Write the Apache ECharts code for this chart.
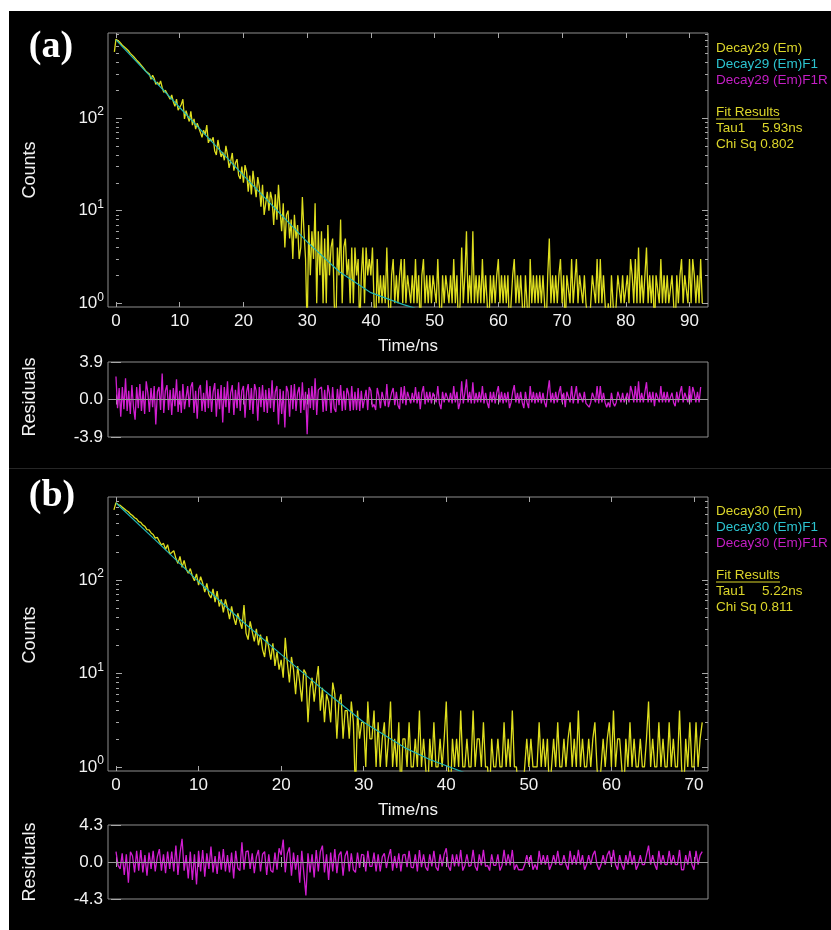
<!DOCTYPE html>
<html>
<head>
<meta charset="utf-8">
<title>Decay fits</title>
<script src="https://cdn.jsdelivr.net/npm/echarts@6/dist/echarts.min.js"></script>
<style>
  html, body { margin: 0; padding: 0; background: #fff; }
  #wrap { position: relative; width: 831px; height: 930px; overflow: hidden; }
  #bg { position: absolute; left: 9px; top: 11px; right: 0; bottom: 0; background: #000; }
  #sep { position: absolute; left: 9px; right: 0; top: 468px; height: 1px; background: #262626; }
  #chart { position: absolute; left: 0; top: 0; width: 831px; height: 930px; }
</style>
</head>
<body>
<div id="wrap">
  <div id="bg"></div>
  <div id="sep"></div>
  <div id="chart"></div>
</div>
<script>
// ---- panel (a): Decay29, channel width 0.25 ns, first channel at -0.25 ns
const startA = -0.25
const stepA = 0.25
const countsA = [
  520,
  712, 680, 672, 640, 612, 585, 572, 548, 530, 500, 488, 462, 448, 422, 414, 388,
  380, 352, 350, 318, 322, 300, 262, 290, 268, 232, 245, 226, 252, 214, 190, 200,
  198, 172, 160, 178, 150, 134, 160, 122, 128, 140, 160, 98, 120, 104, 92, 118,
  84, 98, 76, 88, 92, 70, 62, 74, 66, 84, 54, 60, 56, 62, 44, 40,
  58, 46, 38, 43, 35, 50, 40, 29, 34, 42, 27, 33, 36, 24, 22, 30,
  20, 31, 26, 16, 24, 15, 27, 19, 14, 23, 18, 11, 19, 9, 12, 16,
  10, 16, 13, 7, 15, 8, 19, 10, 6, 12, 4, 9, 10, 5, 8, 3,
  9, 5, 7, 3, 4, 14, 6, 3, 0, 7, 2, 6, 3, 12, 1, 6,
  2, 6, 1, 5, 1, 7, 2, 4, 5, 1, 0, 4, 2, 8, 1, 4,
  5, 2, 3, 1, 4, 1, 4, 2, 3, 0, 2, 4, 1, 4, 2, 3,
  2, 4, 1, 0, 3, 1, 2, 1, 2, 1, 4, 1, 0, 2, 3, 1,
  2, 1, 2, 3, 1, 3, 1, 2, 2, 1, 2, 1, 3, 1, 2, 0,
  2, 3, 1, 2, 1, 2, 1, 2, 2, 1, 3, 1, 0, 2, 1, 2,
  2, 1, 2, 1, 3, 1, 2, 0, 1, 4, 1, 2, 6, 1, 2, 1,
  6, 1, 2, 1, 2, 1, 3, 1, 2, 1, 0, 2, 1, 2, 1, 2,
  3, 1, 2, 1, 2, 1, 2, 0, 1, 2, 3, 1, 2, 1, 2, 1,
  0, 2, 1, 0, 3, 1, 2, 1, 2, 1, 2, 1, 2, 1, 0, 2,
  5, 1, 2, 1, 2, 1, 2, 3, 1, 2, 0, 2, 2, 1, 3, 1,
  1, 3, 1, 2, 2, 1, 2, 1, 1, 0, 1, 2, 2, 1, 3, 1,
  3, 1, 2, 1, 0, 1, 0, 2, 1, 0, 1, 2, 2, 1, 2, 1,
  1, 2, 1, 3, 2, 1, 3, 1, 4, 1, 2, 1, 2, 4, 1, 2,
  1, 2, 0, 2, 2, 1, 3, 1, 2, 1, 2, 1, 1, 2, 1, 0,
  2, 1, 2, 3, 1, 2, 2, 1, 3, 1, 3, 2, 1, 2, 1, 3,
  1
]
const fitTimeA = [0, 5, 10, 15, 20, 25, 30, 35, 40, 45, 47]
const fitA = [700, 302, 130, 56, 24, 10.5, 4.6, 2.2, 1.3, 0.97, 0.88]
const resStartA = 0
const residA = [
  2.4, -0.9, 1.2, -1.8, 1.3, -1.0, 2.2, -1.2, 0.9, -1.5, 1.5, -0.8, -2.1, 1.3, -0.9, 1.6,
  -1.2, 0.9, -1.5, 1.9, 0.7, -1.3, 1.2, -0.8, 1.4, -2.6, 0.8, 1.3, -1.1, 2.7, -1.4, 0.9,
  1.5, -1.1, 1.0, -1.6, 1.2, -0.7, 2.1, -1.3, 0.9, -1.4, 1.6, -1.0, -1.2, 1.4, -0.8, 1.3,
  1.8, -1.4, 0.9, -2.0, 1.1, 1.5, -1.2, 0.7, -1.3, 2.0, -0.9, 1.4, -1.3, 0.8, 1.7, -1.8,
  1.1, -1.0, 1.5, -2.4, 1.3, -0.8, 1.9, -1.4, 0.7, 1.5, -1.6, 1.0, -0.9, 1.8, -1.2, 0.9,
  1.4, -1.9, 0.8, 1.6, -1.1, 1.2, -1.5, 1.6, 0.9, -2.2, 1.3, -0.8, 1.5, -1.3, 1.0, -1.4,
  1.2, -0.9, 2.0, -1.3, 0.8, 1.4, -2.6, 1.1, -1.5, 0.9, -2.9, 1.4, 0.8, -1.8, 1.5, -1.0,
  1.6, -1.2, 0.7, 1.3, -1.4, 1.8, -1.1, 0.8, -3.6, 1.2, -0.9, 1.4, -1.1, 2.2, -1.6, 1.0,
  0.8, 1.3, -1.3, 1.0, -1.2, 1.5, 0.6, -1.4, 1.3, -0.9, -1.3, 1.1, -0.6, 1.5, -1.2, 0.9,
  -1.1, 1.2, 0.6, -1.2, 1.4, -1.1, 0.8, -1.1, 1.2, -1.2, 0.9, -0.9, -1.1, 1.0, -1.1, 1.3,
  0.9, -0.8, -0.5, -1.1, 1.2, 0.4, -0.9, 0.8, 0.6, -0.7, 1.6, -0.8, -1.0, 0.7, 1.2, -0.6,
  0.8, -0.6, -1.0, 1.3, -0.4, 1.4, -0.6, 0.8, 0.9, -0.4, 0.7, -0.3, 1.3, -0.4, 0.8, -1.0,
  0.7, 1.4, -0.5, 0.8, -0.3, 0.8, -0.4, 0.7, 0.8, -0.3, 1.4, -0.4, -1.0, 0.8, -0.3, 0.7,
  0.8, -0.3, 0.7, -0.4, 1.4, -0.3, 0.8, -1.0, -0.3, 1.9, -0.4, 0.7, 2.1, -0.3, 0.8, -0.4,
  1.8, -0.4, 0.7, -0.3, 0.8, -0.3, 1.4, -0.4, 0.7, -0.3, -0.9, 0.8, -0.3, 0.8, -0.4, 0.7,
  1.4, -0.3, 0.8, -0.4, 0.7, -0.3, 0.8, -0.9, -0.3, 0.8, 1.5, -0.3, 0.7, -0.4, 0.8, -0.3,
  -0.9, 0.8, -0.3, -0.9, 1.4, -0.3, 0.8, -0.4, 0.7, -0.3, 0.8, -0.4, 0.7, -0.3, -0.8, 0.8,
  2.0, -0.3, 0.7, -0.4, 0.8, -0.3, 0.7, 1.4, -0.3, 0.7, -0.8, 0.8, 0.7, -0.3, 1.4, -0.4,
  -0.3, 1.4, -0.4, 0.7, 0.8, -0.3, 0.8, -0.4, -0.3, -0.8, -0.3, 0.7, 0.8, -0.3, 1.4, -0.4,
  1.4, -0.3, 0.7, -0.3, -0.8, -0.3, -0.8, 0.7, -0.3, -0.7, -0.3, 0.8, 0.8, -0.3, 0.7, -0.3,
  -0.3, 0.7, -0.3, 1.4, 0.8, -0.3, 1.4, -0.3, 1.9, -0.3, 0.7, -0.3, 0.8, 1.8, -0.3, 0.8,
  -0.3, 0.8, -0.7, 0.7, 0.8, -0.3, 1.4, -0.3, 0.8, -0.3, 0.8, -0.3, -0.3, 0.7, -0.3, -0.7,
  0.8, -0.3, 0.7, 1.4, -0.3, 0.7, 0.7, -0.3, 1.4, -0.3, 1.3, 0.7, -0.3, 0.8, -0.3, 1.3
]

// ---- panel (b): Decay30
const startB = -0.25
const stepB = 0.25
const countsB = [
  560,
  670, 640, 628, 600, 578, 552, 536, 505, 488, 462, 450, 420, 412, 386, 374, 345,
  342, 318, 306, 280, 285, 258, 236, 246, 212, 238, 190, 196, 205, 170, 150, 178,
  136, 162, 130, 118, 132, 110, 98, 116, 88, 108, 92, 74, 92, 70, 64, 80,
  58, 76, 52, 62, 45, 62, 50, 38, 52, 40, 33, 44, 36, 30, 54, 27,
  23, 36, 28, 22, 30, 20, 26, 18, 15, 25, 19, 14, 21, 12, 17, 11,
  14, 9, 24, 13, 8, 15, 11, 6, 12, 8, 5, 11, 10, 3, 7, 9,
  5, 8, 12, 4, 7, 3, 6, 5, 3, 8, 6, 2, 5, 6, 2, 4,
  4, 2, 5, 3, 0, 4, 2, 3, 3, 1, 5, 2, 2, 4, 1, 3,
  1, 2, 3, 1, 2, 5, 1, 2, 1, 3, 0, 2, 2, 1, 3, 1,
  1, 2, 1, 4, 1, 2, 1, 0, 2, 1, 3, 1, 1, 2, 1, 2,
  5, 1, 0, 2, 1, 2, 1, 4, 1, 1, 2, 1, 1, 4, 1, 2,
  2, 1, 3, 1, 1, 0, 2, 1, 1, 2, 1, 1, 3, 1, 2, 1,
  4, 1, 1, 0, 0, 0, 1, 2, 1, 2, 1, 1, 1, 3, 1, 2,
  1, 2, 0, 1, 2, 1, 3, 1, 1, 2, 1, 2, 3, 1, 2, 1,
  4, 1, 2, 1, 1, 2, 1, 2, 3, 1, 0, 1, 2, 1, 2, 3,
  1, 4, 1, 2, 2, 1, 0, 2, 1, 3, 1, 2, 1, 1, 2, 1,
  1, 2, 5, 1, 2, 1, 1, 3, 1, 2, 1, 1, 3, 1, 2, 1,
  1, 4, 1, 0, 2, 1, 3, 1, 1, 3, 1, 2,
  3
]
const fitTimeB = [0, 5, 10, 15, 20, 25, 30, 35, 38, 42.5]
const fitB = [665, 255, 96, 38, 16, 6.8, 3.0, 1.6, 1.2, 0.85]
const resStartB = 0
const residB = [
  1.2, -0.4, -0.8, 1.0, -1.5, 0.9, -2.4, 1.2, 0.7, -1.2, 1.3, -1.0, 1.4, -1.2, 0.8, -1.6,
  1.1, -0.8, 1.3, -1.1, 0.6, 1.5, -1.0, 0.9, -1.3, 1.2, -0.8, 1.2, -1.1, 1.9, -1.5, 1.0,
  2.7, -1.0, 0.8, -1.9, 1.2, -2.1, 0.9, -2.6, 1.3, -1.1, 1.4, -1.7, 1.0, -0.8, 1.8, -1.2,
  0.7, -1.4, 1.2, -0.9, 1.5, -1.1, 0.8, -1.2, 1.1, -1.9, 1.3, -0.7, -1.0, 2.3, -0.9, 1.2,
  1.3, -0.8, 1.0, -1.3, 0.6, 1.4, -1.1, 0.9, 1.2, -1.5, 0.9, -1.0, -1.2, 1.1, -0.9, 1.6,
  0.8, 2.6, -1.2, 1.0, 1.7, -1.6, 1.1, -0.9, 0.8, -2.4, 1.3, -1.3, -3.9, 1.0, -1.2, 0.9,
  -1.8, 1.4, -1.1, 1.2, 1.9, -1.2, 0.9, -2.1, 1.1, -1.1, 1.5, -1.3, 0.8, 1.2, -1.6, 0.7,
  1.3, -1.1, 1.0, -0.9, -1.2, 1.1, -0.7, 0.9, 0.8, -1.1, 1.3, -0.5, -0.5, 1.1, -1.1, 0.9,
  -1.1, 0.6, 1.0, -0.7, 0.6, 1.5, -1.0, 0.7, -0.7, 1.0, -1.1, 0.8, 0.9, -0.6, 1.3, -0.6,
  -0.7, 0.9, -1.1, 1.4, -0.6, 0.9, -0.6, -1.0, 0.9, -0.5, 1.3, -0.6, -1.0, 0.9, -0.5, 0.9,
  1.6, -0.5, -1.0, 0.9, -0.5, 0.9, -0.5, 1.4, -1.0, -0.4, 0.9, -0.5, -0.4, 1.4, -0.5, -1.0,
  0.9, -0.4, 1.4, -0.5, -0.4, -1.0, 0.9, -0.4, -0.4, 0.9, -1.0, -0.4, 1.4, -0.4, 0.9, -0.4,
  1.4, -0.9, -0.3, -0.9, -0.9, -0.9, -0.3, 0.8, -0.3, 0.8, -0.9, -0.3, -0.9, 1.3, -0.3, 0.8,
  -0.3, 0.8, -0.9, -0.3, 0.8, -0.3, 1.3, -0.3, -0.3, 0.8, -0.3, -0.9, 1.3, -0.3, 0.8, -0.3,
  1.4, -0.3, 0.8, -0.9, -0.3, 0.8, -0.3, 0.8, 1.3, -0.3, -0.9, -0.3, 0.8, -0.3, 0.8, 1.3,
  -0.3, 1.4, -0.3, -0.9, 0.8, -0.3, -0.9, 0.8, -0.3, 1.3, -0.3, 0.8, -0.9, -0.3, 0.8, -0.3,
  -0.3, 0.8, 1.9, -0.3, 0.8, -0.3, -0.9, 1.3, -0.3, 0.8, -0.3, -0.3, 1.3, -0.3, 0.8, -0.3,
  -0.3, 1.4, -0.9, -0.9, 0.8, -0.3, 1.3, -0.3, -0.9, 1.3, -0.3, 0.8,
  1.2
]

// axis ticks / labels
const ticksA = [0, 10, 20, 30, 40, 50, 60, 70, 80, 90]
const ticksB = [0, 10, 20, 30, 40, 50, 60, 70]
const logMajor = [1, 10, 100]
const logMinor = [2, 3, 4, 5, 6, 7, 8, 9, 20, 30, 40, 50, 60, 70, 80, 90, 200, 300, 400, 500, 600, 700, 800]
const resTicksA = [-3.9, 0, 3.9]
const resTicksB = [-4.3, 0, 4.3]

const ZERO_FLOOR = 0.5 // zero counts drawn below the log axis bottom (clipped)
const YELLOW = '#dede1e'
const CYAN = '#22b4b4'
const MAGENTA = '#d01ed0'
const TICK = '#a8a8a8'
const FONT = '"Liberation Sans", Arial, sans-serif'

function decayPoints (counts, start, step) {
  return counts.map((c, i) => [start + i * step, c > 0 ? c : ZERO_FLOOR])
}
function seqPoints (values, start, step) {
  return values.map((v, i) => [start + i * step, v])
}
function pairs (xs, ys) {
  return xs.map((x, i) => [x, ys[i]])
}

function xAx (grid, min, max, ticks, pos, labels) {
  return {
    type: 'value', gridIndex: grid, position: pos, min: min, max: max,
    axisLine: { show: false }, splitLine: { show: false },
    axisTick: { show: true, inside: true, length: 5, customValues: ticks, lineStyle: { color: TICK } },
    axisLabel: { show: labels, customValues: ticks, margin: 6, color: '#f2f2f2', fontSize: 17, fontFamily: FONT }
  }
}
function logAx (grid, min, max, pos, ticks, len, labels) {
  return {
    type: 'log', logBase: 10, gridIndex: grid, position: pos, min: min, max: max,
    axisLine: { show: false }, splitLine: { show: false }, minorTick: { show: false },
    axisTick: { show: true, inside: true, length: len, customValues: ticks, lineStyle: { color: TICK } },
    axisLabel: {
      show: labels, customValues: ticks, margin: 4,
      formatter: v => '{b|10}{s|' + Math.round(Math.log10(v)) + '}',
      rich: {
        b: { fontSize: 17, color: '#f2f2f2', fontFamily: FONT, lineHeight: 24 },
        s: { fontSize: 12, color: '#f2f2f2', fontFamily: FONT, lineHeight: 24, verticalAlign: 'top' }
      }
    }
  }
}
function resAx (grid, lim, ticks, pos, labels) {
  return {
    type: 'value', gridIndex: grid, position: pos, min: -lim, max: lim,
    axisLine: { show: false }, splitLine: { show: false },
    axisTick: { show: true, inside: true, length: 5, customValues: ticks, lineStyle: { color: TICK } },
    axisLabel: {
      show: labels, customValues: ticks, margin: 5, color: '#f2f2f2', fontSize: 17, fontFamily: FONT,
      formatter: v => v.toFixed(1)
    }
  }
}

const frame = { show: true, borderColor: '#8e8e8e', borderWidth: 1, backgroundColor: 'transparent' }

function vText (x, y, txt, size) {
  return {
    type: 'text', x: x, y: y, rotation: Math.PI / 2,
    style: { text: txt, fill: '#f2f2f2', font: size + 'px ' + FONT, align: 'center', verticalAlign: 'middle', textAlign: 'center', textVerticalAlign: 'middle' }
  }
}
function hText (x, y, txt, color, font, align) {
  return {
    type: 'text', x: x, y: y,
    style: { text: txt, fill: color, font: font, align: align || 'left', verticalAlign: 'middle', textAlign: align || 'left', textVerticalAlign: 'middle' }
  }
}
function legendBlock (y0, name, tau, chi) {
  const f = '13.5px ' + FONT
  return [
    hText(716, y0, name + ' (Em)', '#dcd62a', f),
    hText(716, y0 + 16, name + ' (Em)F1', '#2cc4d0', f),
    hText(716, y0 + 32, name + ' (Em)F1R', '#c41ec4', f),
    hText(716, y0 + 64, 'Fit Results', '#dcd62a', f),
    { type: 'line', shape: { x1: 716, y1: y0 + 71, x2: 780, y2: y0 + 71 }, style: { stroke: '#dcd62a', lineWidth: 1 } },
    hText(716, y0 + 80, 'Tau1', '#dcd62a', f),
    hText(762, y0 + 80, tau, '#dcd62a', f),
    hText(716, y0 + 96, 'Chi Sq ' + chi, '#dcd62a', f)
  ]
}

function decaySeries (name, xi, yi, data) {
  return {
    name: name, type: 'line', xAxisIndex: xi, yAxisIndex: yi, data: data,
    showSymbol: false, symbol: 'none', clip: true,
    lineStyle: { color: YELLOW, width: 1.3 }, z: 2
  }
}
function fitSeries (name, xi, yi, data) {
  return {
    name: name, type: 'line', xAxisIndex: xi, yAxisIndex: yi, data: data,
    showSymbol: false, symbol: 'none', clip: true,
    lineStyle: { color: CYAN, width: 1.2 }, z: 3
  }
}
function residSeries (name, xi, yi, data) {
  return {
    name: name, type: 'line', xAxisIndex: xi, yAxisIndex: yi, data: data,
    showSymbol: false, symbol: 'none', clip: true,
    lineStyle: { color: MAGENTA, width: 1.3 }, z: 2,
    markLine: {
      silent: true, symbol: 'none', label: { show: false },
      lineStyle: { color: '#9a9a9a', width: 1, type: 'solid' },
      data: [{ yAxis: 0 }]
    }
  }
}

const chart = echarts.init(document.getElementById('chart'))
chart.setOption({
  animation: false,
  backgroundColor: 'transparent',
  grid: [
    Object.assign({ left: 108, top: 33, width: 600, height: 274 }, frame),
    Object.assign({ left: 108, top: 362, width: 600, height: 75 }, frame),
    Object.assign({ left: 108, top: 497, width: 600, height: 274 }, frame),
    Object.assign({ left: 108, top: 825, width: 600, height: 74 }, frame)
  ],
  xAxis: [
    xAx(0, -1.25, 92.9, ticksA, 'bottom', true),
    xAx(0, -1.25, 92.9, ticksA, 'top', false),
    xAx(1, -1.25, 92.9, ticksA, 'bottom', false),
    xAx(1, -1.25, 92.9, ticksA, 'top', false),
    xAx(2, -0.97, 71.7, ticksB, 'bottom', true),
    xAx(2, -0.97, 71.7, ticksB, 'top', false),
    xAx(3, -0.97, 71.7, ticksB, 'bottom', false),
    xAx(3, -0.97, 71.7, ticksB, 'top', false)
  ],
  yAxis: [
    logAx(0, 0.91, 830, 'left', logMajor, 6, true),
    logAx(0, 0.91, 830, 'left', logMinor, 3, false),
    logAx(0, 0.91, 830, 'right', logMajor, 6, false),
    logAx(0, 0.91, 830, 'right', logMinor, 3, false),
    resAx(1, 3.9, resTicksA, 'left', true),
    resAx(1, 3.9, resTicksA, 'right', false),
    logAx(2, 0.905, 770, 'left', logMajor, 6, true),
    logAx(2, 0.905, 770, 'left', logMinor, 3, false),
    logAx(2, 0.905, 770, 'right', logMajor, 6, false),
    logAx(2, 0.905, 770, 'right', logMinor, 3, false),
    resAx(3, 4.3, resTicksB, 'left', true),
    resAx(3, 4.3, resTicksB, 'right', false)
  ],
  series: [
    decaySeries('Decay29 (Em)', 0, 0, decayPoints(countsA, startA, stepA)),
    fitSeries('Decay29 (Em)F1', 0, 0, pairs(fitTimeA, fitA)),
    residSeries('Decay29 (Em)F1R', 2, 4, seqPoints(residA, resStartA, stepA)),
    decaySeries('Decay30 (Em)', 4, 6, decayPoints(countsB, startB, stepB)),
    fitSeries('Decay30 (Em)F1', 4, 6, pairs(fitTimeB, fitB)),
    residSeries('Decay30 (Em)F1R', 6, 10, seqPoints(residB, resStartB, stepB))
  ],
  graphic: [
    hText(51, 47, '(a)', '#ffffff', 'bold 38px "Liberation Serif", "Times New Roman", serif', 'center'),
    hText(52, 496, '(b)', '#ffffff', 'bold 38px "Liberation Serif", "Times New Roman", serif', 'center'),
    vText(30, 170, 'Counts', 18),
    vText(30, 397, 'Residuals', 18),
    vText(30, 635, 'Counts', 18),
    vText(30, 862, 'Residuals', 18),
    hText(408, 346, 'Time/ns', '#f2f2f2', '17px ' + FONT, 'center'),
    hText(408, 810, 'Time/ns', '#f2f2f2', '17px ' + FONT, 'center')
  ].concat(legendBlock(48, 'Decay29', '5.93ns', '0.802'), legendBlock(511, 'Decay30', '5.22ns', '0.811'))
})
</script>
</body>
</html>
